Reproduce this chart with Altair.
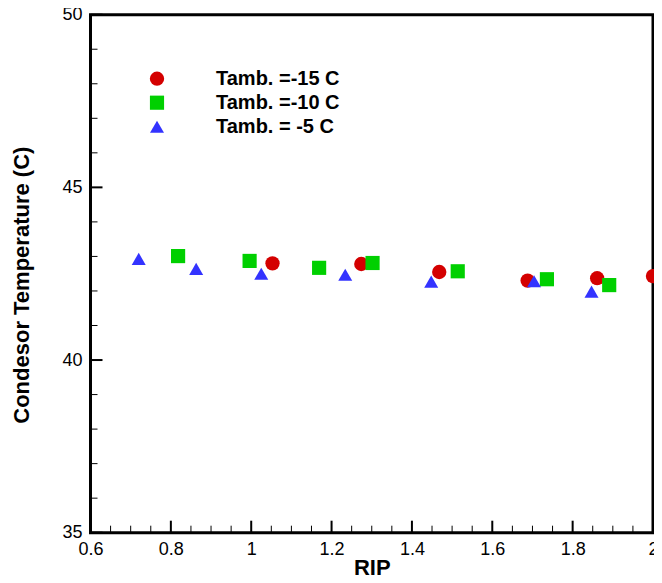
import altair as alt
import pandas as pd

# ---------------- data ----------------
series_labels = ["Tamb. =-15 C", "Tamb. =-10 C", "Tamb. = -5 C"]
series_colors = ["#d40000", "#00d000", "#3333ff"]
series_shapes = ["circle", "square", "triangle-up"]
series_sizes = [205, 196, 256]

rip_m15 = [1.053, 1.274, 1.468, 1.688, 1.861, 2.000]
tc_m15 = [42.80, 42.78, 42.55, 42.30, 42.37, 42.43]

rip_m10 = [0.818, 0.996, 1.169, 1.302, 1.514, 1.736, 1.891]
tc_m10 = [43.01, 42.87, 42.67, 42.81, 42.57, 42.34, 42.17]

rip_m5 = [0.720, 0.863, 1.025, 1.234, 1.448, 1.704, 1.847]
tc_m5 = [42.93, 42.64, 42.50, 42.47, 42.27, 42.28, 41.98]

x_major = [0.6, 0.8, 1.0, 1.2, 1.4, 1.6, 1.8, 2.0]
x_minor = [0.65, 0.7, 0.75, 0.85, 0.9, 0.95, 1.05, 1.1, 1.15, 1.25, 1.3, 1.35,
           1.45, 1.5, 1.55, 1.65, 1.7, 1.75, 1.85, 1.9, 1.95]
y_major = [35, 40, 45, 50]
y_minor = [36, 37, 38, 39, 41, 42, 43, 44, 46, 47, 48, 49]

# ---------------- tables ----------------
rows = []
for lab, xs, ys in zip(series_labels, [rip_m15, rip_m10, rip_m5], [tc_m15, tc_m10, tc_m5]):
    for xv, yv in zip(xs, ys):
        rows.append({"rip": xv, "tc": yv, "series": lab})
df = pd.DataFrame(rows)

W, H = 562.5, 518
FONT = "Liberation Sans"

xscale = alt.Scale(domain=[0.6, 2.0], nice=False, zero=False)
yscale = alt.Scale(domain=[35, 50], nice=False, zero=False)

xaxis = alt.Axis(values=x_major, format="~g", ticks=False, tickSize=0, domain=False, grid=False,
                 labelFont=FONT, labelFontSize=18, labelColor="black", labelPadding=8,
                 labelFlush=False, labelOverlap=False,
                 title="RIP", titleFont=FONT, titleFontSize=22, titleFontWeight="bold",
                 titleColor="black", titleY=41.5, titleBaseline="alphabetic")
yaxis = alt.Axis(values=y_major, format="~g", ticks=False, tickSize=0, domain=False, grid=False,
                 labelFont=FONT, labelFontSize=18, labelColor="black", labelPadding=8.5,
                 labelFlush=False, labelOverlap=False,
                 title="Condesor Temperature (C)", titleFont=FONT, titleFontSize=22,
                 titleFontWeight="bold", titleColor="black", titleX=-62, titleY=270,
                 titleBaseline="alphabetic", titleAlign="center")

legend = alt.Legend(title=None, orient="none", legendX=56.5, legendY=54,
                    labelFont=FONT, labelFontSize=20, labelFontWeight="bold",
                    labelColor="black", labelOffset=49, symbolSize=210, rowPadding=4,
                    padding=0, symbolStrokeWidth=0, symbolOpacity=1)

pts = alt.Chart(df).mark_point(filled=True, opacity=1, strokeWidth=0).encode(
    x=alt.X("rip:Q", scale=xscale, axis=xaxis),
    y=alt.Y("tc:Q", scale=yscale, axis=yaxis),
    color=alt.Color("series:N", scale=alt.Scale(domain=series_labels, range=series_colors), legend=legend),
    shape=alt.Shape("series:N", scale=alt.Scale(domain=series_labels, range=series_shapes), legend=legend),
    size=alt.Size("series:N", scale=alt.Scale(domain=series_labels, range=series_sizes), legend=None),
)

xt_major = alt.Chart(pd.DataFrame({"rip": x_major})).mark_rule(color="black", strokeWidth=2).encode(
    x=alt.X("rip:Q", scale=xscale, axis=xaxis), y=alt.value(H), y2=alt.value(H - 12))
xt_minor = alt.Chart(pd.DataFrame({"rip": x_minor})).mark_rule(color="black", strokeWidth=1).encode(
    x=alt.X("rip:Q", scale=xscale, axis=xaxis), y=alt.value(H), y2=alt.value(H - 7))
yt_major = alt.Chart(pd.DataFrame({"tc": y_major})).mark_rule(color="black", strokeWidth=2).encode(
    y=alt.Y("tc:Q", scale=yscale, axis=yaxis), x=alt.value(0), x2=alt.value(12))
yt_minor = alt.Chart(pd.DataFrame({"tc": y_minor})).mark_rule(color="black", strokeWidth=1).encode(
    y=alt.Y("tc:Q", scale=yscale, axis=yaxis), x=alt.value(0), x2=alt.value(7))

chart = alt.layer(xt_minor, xt_major, yt_minor, yt_major, pts).properties(
    width=W, height=H,
    padding={"left": 82.5, "top": 6.7, "right": 1, "bottom": 42.3},
    autosize=alt.AutoSizeParams(type="none"),
    background="white",
).configure_view(stroke="black", strokeWidth=3)

chart.save("out.html", embed_options={"renderer": "svg", "actions": False})
